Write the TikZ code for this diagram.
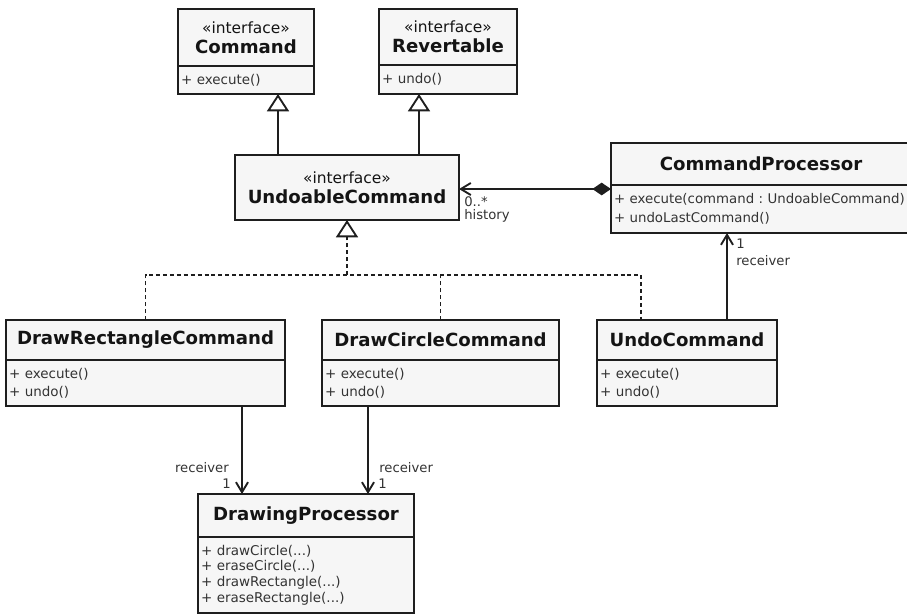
\documentclass[tikz,border=0pt]{standalone}
\usepackage{fontspec}
\setmainfont{DejaVu Sans}
\usetikzlibrary{arrows.meta,calc}
\definecolor{boxfill}{HTML}{F6F6F6}
\definecolor{linec}{HTML}{1E1E1E}
\definecolor{txt}{HTML}{333333}
\newcommand\ttlf{\fontsize{13.6}{16}\selectfont\bfseries}
\newcommand\stereof{\fontsize{11.6}{15}\selectfont}
\newcommand\memf{\fontsize{10.1}{13.5}\selectfont}
\newcommand\memdf{\fontsize{10.1}{11.8}\selectfont}
\newcommand\memcf{\fontsize{10}{14.2}\selectfont}
\newcommand\lblf{\fontsize{9.9}{12}\selectfont}
\frenchspacing
\begin{document}
\begin{tikzpicture}[x=0.75pt,y=-0.75pt,
  box/.style={draw=linec, fill=boxfill, line width=1.6pt, inner sep=0pt, outer sep=0pt, anchor=north west},
  hdr/.style={box, align=center, text=black!92, font=\ttlf},
  body/.style={box, align=left, text=txt, font=\memf, inner xsep=2.25pt},
  lbl/.style={text=txt, font=\lblf, inner sep=0pt},
  conn/.style={draw=linec, line width=1.4pt},
  nav/.style={conn, -{Straight Barb[length=7.5pt,width=9pt,line width=1.4pt]}},
  gen/.style={conn, -{Triangle[length=13pt,width=16.5pt,fill=white,line width=1.4pt]}},
  realz/.style={conn, dash pattern=on 3pt off 2.2pt},
  comp/.style={conn, {Diamond[length=14pt,width=9.5pt,fill=linec]}-{Straight Barb[length=7.5pt,width=9pt,line width=1.4pt]}}
]
\useasboundingbox (0,0) rectangle (907,615);
\clip (0,0) rectangle (907,615);

% column coordinates
\coordinate (x278) at (278,0);
\coordinate (x419) at (419,0);
\coordinate (x641) at (641,0);
\coordinate (x727) at (727,0);
\coordinate (x242) at (242,0);
\coordinate (x368) at (368,0);
\coordinate (bus) at (0,275);

% Command
\node[hdr, minimum width=102pt, minimum height=42.75pt] (cmdH) at (178,9)
  {{\stereof\mdseries «interface»}\\[-1pt]Command};
\node[body, minimum width=102pt, minimum height=21pt, text width=97.5pt] (cmdB) at (cmdH.south west) {+ execute()};

% Revertable
\node[hdr, minimum width=103.5pt, minimum height=42pt] (revH) at (379,9)
  {{\stereof\mdseries «interface»}\\[-1pt]Revertable};
\node[body, minimum width=103.5pt, minimum height=21.75pt, text width=99pt] (revB) at (revH.south west) {+ undo()};

% UndoableCommand
\node[hdr, minimum width=168pt, minimum height=48.75pt] (undo) at (235,155)
  {{\stereof\mdseries «interface»}\\[-1pt]UndoableCommand};

% CommandProcessor
\node[hdr, minimum width=225pt, minimum height=31.5pt] (cprocH) at (611,143) {CommandProcessor};
\node[body, minimum width=225pt, minimum height=36pt, text width=220.5pt, font=\memcf] (cprocB) at (cprocH.south west)
  {+ execute(command : UndoableCommand)\\+ undoLastCommand()};

% DrawRectangleCommand
\node[hdr, minimum width=209.25pt, minimum height=30pt] (drectH) at (6,320) {DrawRectangleCommand};
\node[body, minimum width=209.25pt, minimum height=34.5pt, text width=204.75pt] (drectB) at (drectH.south west)
  {+ execute()\\+ undo()};

% DrawCircleCommand
\node[hdr, minimum width=177.75pt, minimum height=30pt] (dcircH) at (322,320) {DrawCircleCommand};
\node[body, minimum width=177.75pt, minimum height=34.5pt, text width=173.25pt] (dcircB) at (dcircH.south west)
  {+ execute()\\+ undo()};

% UndoCommand
\node[hdr, minimum width=135pt, minimum height=30pt] (ucmdH) at (597,320) {UndoCommand};
\node[body, minimum width=135pt, minimum height=34.5pt, text width=130.5pt] (ucmdB) at (ucmdH.south west)
  {+ execute()\\+ undo()};

% DrawingProcessor
\node[hdr, minimum width=162pt, minimum height=32.25pt] (dprocH) at (198,494) {DrawingProcessor};
\node[body, minimum width=162pt, minimum height=57pt, text width=157.5pt, font=\memdf] (dprocB) at (dprocH.south west)
  {+ drawCircle(...)\\+ eraseCircle(...)\\+ drawRectangle(...)\\+ eraseRectangle(...)};

% generalizations
\draw[gen] (undo.north -| x278) -- (cmdB.south -| x278);
\draw[gen] (undo.north -| x419) -- (revB.south -| x419);

% realizations
\draw[realz] (drectH.north) |- (bus -| x641) -- (ucmdH.north -| x641);
\draw[realz] (dcircH.north) -- (dcircH.north |- bus);
\draw[realz, -{Triangle[length=13pt,width=16.5pt,fill=white,line width=1.4pt]}] (undo.south |- bus) -- (undo.south);

% composition
\coordinate (cpl) at ([yshift=-3pt]cprocB.north west);
\draw[comp] (cpl) -- (cpl -| undo.east);

% navigable associations
\draw[nav] (ucmdH.north -| x727) -- (cprocB.south -| x727);
\draw[nav] (drectB.south -| x242) -- (dprocH.north -| x242);
\draw[nav] (dcircB.south -| x368) -- (dprocH.north -| x368);

% labels
\node[lbl, anchor=west] (l1) at (464,202) {0..*};
\node[lbl, anchor=west] (l2) at (464,216) {history};
\node[lbl, anchor=west] (l3) at (736,244) {1};
\node[lbl, anchor=west] (l4) at (736,261) {receiver};
\node[lbl, anchor=east] (l5) at (229,468) {receiver};
\node[lbl, anchor=east] (l6) at (231,484) {1};
\node[lbl, anchor=west] (l7) at (379,468) {receiver};
\node[lbl, anchor=west] (l8) at (378,484) {1};
\end{tikzpicture}
\end{document}
